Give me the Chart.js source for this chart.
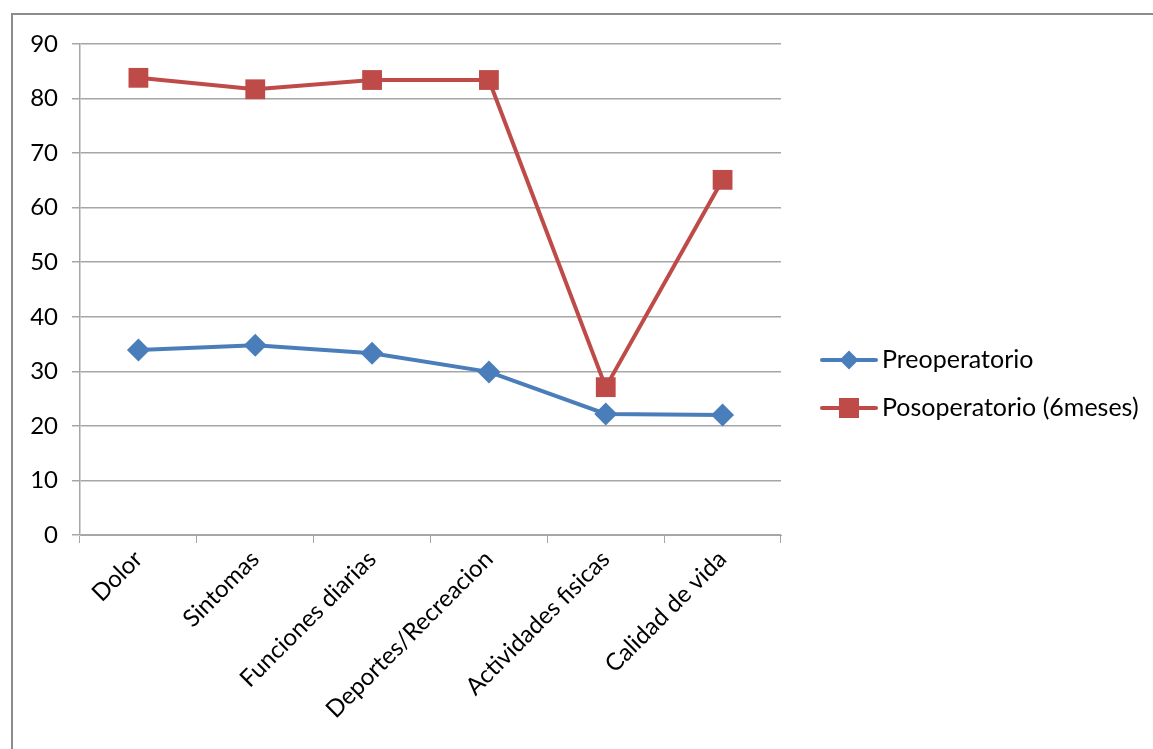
<!DOCTYPE html>
<html>
<head>
<meta charset="utf-8">
<script src="https://cdn.jsdelivr.net/npm/chart.js@4"></script>
<style>
  html, body { margin: 0; padding: 0; background: #ffffff; }
  #wrap { position: relative; width: 1153px; height: 749px; }
</style>
</head>
<body>
<div id="wrap"><canvas id="c" width="1153" height="749"></canvas></div>
<script>
// KOOS subscale scores, before surgery and six months after
const categories = ['Dolor', 'Sintomas', 'Funciones diarias', 'Deportes/Recreacion', 'Actividades fisicas', 'Calidad de vida'];
const preoperatorio = [33.9, 34.8, 33.3, 29.9, 22.2, 22.0];
const posoperatorio = [83.8, 81.7, 83.4, 83.4, 27.1, 65.1];
const seriesNames = ['Preoperatorio', 'Posoperatorio (6meses)'];
const yTicks = [0, 10, 20, 30, 40, 50, 60, 70, 80, 90];

const FONT = 'Lato, "Open Sans", sans-serif';
const BLUE = '#4a7ebb';
const RED = '#be4b48';
const GRID = '#a6a6a6';

// outer frame around the chart object
const framePlugin = {
  id: 'frame',
  beforeDraw(chart) {
    const ctx = chart.ctx;
    ctx.save();
    ctx.fillStyle = '#ffffff';
    ctx.fillRect(0, 0, chart.width, chart.height);
    ctx.strokeStyle = '#8c8c8c';
    ctx.lineWidth = 2;
    ctx.beginPath();
    ctx.moveTo(12, chart.height + 5);
    ctx.lineTo(12, 14);
    ctx.lineTo(chart.width + 5, 14);
    ctx.stroke();
    ctx.restore();
  }
};

// legend with line + marker samples, placed right of the plot
const sideLegend = {
  id: 'sideLegend',
  afterDraw(chart) {
    const ctx = chart.ctx;
    ctx.save();
    const x0 = 822, x1 = 876, rowY = [360, 408];
    chart.data.datasets.forEach((ds, i) => {
      const y = rowY[i];
      const cx = (x0 + x1) / 2;
      ctx.strokeStyle = ds.borderColor;
      ctx.lineWidth = ds.borderWidth;
      ctx.lineCap = 'round';
      ctx.beginPath();
      ctx.moveTo(x0, y);
      ctx.lineTo(x1, y);
      ctx.stroke();
      ctx.fillStyle = ds.backgroundColor;
      ctx.beginPath();
      if (ds.pointStyle === 'rect') {
        const s = 10;
        ctx.rect(cx - s, y - s, 2 * s, 2 * s);
      } else {
        const r = 9.5;
        ctx.moveTo(cx, y - r); ctx.lineTo(cx + r, y); ctx.lineTo(cx, y + r); ctx.lineTo(cx - r, y); ctx.closePath();
      }
      ctx.fill();
      ctx.fillStyle = '#000000';
      ctx.font = '25px ' + FONT;
      ctx.textBaseline = 'middle';
      ctx.textAlign = 'left';
      ctx.fillText(ds.label, 882, y);
    });
    ctx.restore();
  }
};

new Chart(document.getElementById('c'), {
  type: 'line',
  data: {
    labels: categories,
    datasets: [
      {
        label: seriesNames[0],
        data: preoperatorio,
        borderColor: BLUE,
        backgroundColor: BLUE,
        borderWidth: 4,
        pointStyle: 'rectRot',
        pointRadius: 11.5,
        pointHoverRadius: 11.5,
        pointBorderWidth: 0,
        tension: 0
      },
      {
        label: seriesNames[1],
        data: posoperatorio,
        borderColor: RED,
        backgroundColor: RED,
        borderWidth: 4,
        pointStyle: 'rect',
        pointRadius: 14,
        pointHoverRadius: 14,
        pointBorderWidth: 0,
        tension: 0
      }
    ]
  },
  options: {
    responsive: false,
    animation: false,
    events: [],
    layout: { padding: { top: 44, right: 372, left: 0, bottom: 0 } },
    plugins: {
      legend: { display: false },
      tooltip: { enabled: false }
    },
    scales: {
      x: {
        offset: true,
        grid: { offset: true, drawOnChartArea: false, drawTicks: true, tickLength: 8, color: GRID, lineWidth: 1 },
        border: { display: true, color: GRID, width: 1 },
        ticks: {
          color: '#000000',
          font: { family: FONT, size: 24 },
          maxRotation: 45,
          minRotation: 45,
          padding: 2,
          autoSkip: false
        },
        afterFit(scale) { scale.height = 214; }
      },
      y: {
        min: 0,
        max: 90,
        afterBuildTicks(scale) { scale.ticks = yTicks.map(v => ({ value: v })); },
        grid: { color: GRID, lineWidth: 1.5, drawTicks: true, tickLength: 8 },
        border: { display: true, color: GRID, width: 1.5 },
        ticks: {
          color: '#000000',
          font: { family: FONT, size: 24 },
          padding: 14
        },
        afterFit(scale) { scale.width = 80; }
      }
    }
  },
  plugins: [framePlugin, sideLegend]
});
</script>
</body>
</html>
